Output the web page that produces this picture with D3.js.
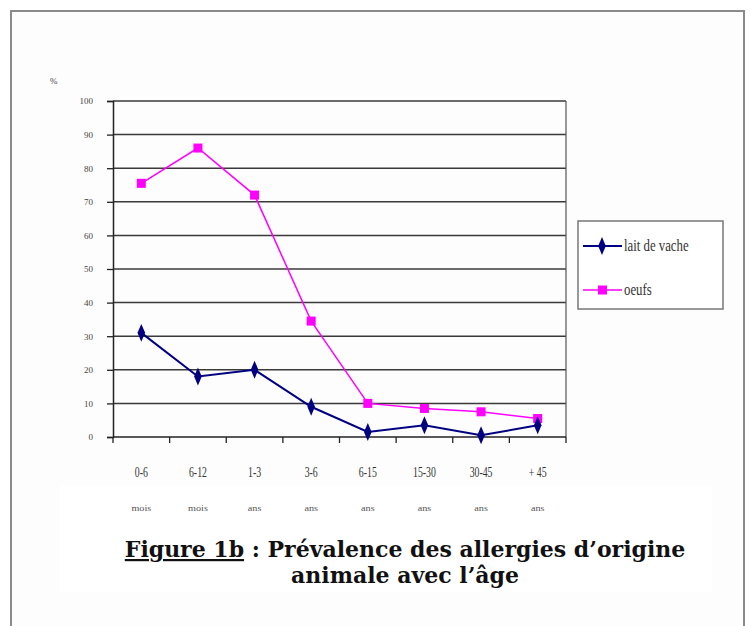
<!DOCTYPE html>
<html>
<head>
<meta charset="utf-8">
<script src="https://cdn.jsdelivr.net/npm/d3@7"></script>
<style>
    body { margin: 0; background: #ffffff; }
    svg { display: block; }
</style>
</head>
<body>
<svg id="chart" width="755" height="626"></svg>
<script>
const categories = ["0-6", "6-12", "1-3", "3-6", "6-15", "15-30", "30-45", "+ 45"];
const units = ["mois", "mois", "ans", "ans", "ans", "ans", "ans", "ans"];
const laitDeVache = [31, 18, 20, 9, 1.5, 3.5, 0.5, 3.5];
const oeufs = [75.5, 86, 72, 34.5, 10, 8.5, 7.5, 5.5];
const yTicks = [0, 10, 20, 30, 40, 50, 60, 70, 80, 90, 100];
const seriesNames = ["lait de vache", "oeufs"];

const svg = d3.select("#chart");

// outer frame (bottom edge runs off the picture)
svg.append("rect")
    .attr("x", 11).attr("y", 11)
    .attr("width", 733).attr("height", 640)
    .attr("fill", "#fdfdfd")
    .attr("stroke", "#8a8a8a")
    .attr("stroke-width", 2);

// caption area
svg.append("rect")
    .attr("x", 60).attr("y", 486)
    .attr("width", 652).attr("height", 106)
    .attr("fill", "#ffffff");

const plot = {left: 113, right: 566, top: 101, bottom: 437};

const x = d3.scaleBand()
    .domain(categories)
    .range([plot.left, plot.right])
    .padding(0);

const y = d3.scaleLinear()
    .domain([0, 100])
    .range([plot.bottom, plot.top]);

// gridlines
svg.append("g")
    .selectAll("line")
    .data(yTicks.filter(d => d > 0))
    .join("line")
    .attr("x1", plot.left)
    .attr("x2", plot.right)
    .attr("y1", d => y(d))
    .attr("y2", d => y(d))
    .attr("stroke", "#3a3a3a")
    .attr("stroke-width", 1.5);

// right border of plot
svg.append("line")
    .attr("x1", plot.right).attr("x2", plot.right)
    .attr("y1", plot.top).attr("y2", plot.bottom)
    .attr("stroke", "#555")
    .attr("stroke-width", 1.2);

// y axis
const yAxis = svg.append("g")
    .attr("transform", `translate(${plot.left},0)`)
    .call(d3.axisLeft(y).tickValues(yTicks).tickSize(6).tickPadding(14));
yAxis.select(".domain").attr("stroke", "#222").attr("stroke-width", 1.5);
yAxis.selectAll(".tick line").attr("stroke", "#222").attr("stroke-width", 1.3);
yAxis.selectAll("text")
    .attr("font-family", "Liberation Serif")
    .attr("font-size", 9)
    .attr("fill", "#444");

svg.append("text")
    .attr("x", 50).attr("y", 84)
    .attr("font-family", "Liberation Serif")
    .attr("font-size", 9)
    .attr("fill", "#444")
    .text("%");

// x axis with ticks at category boundaries
const xAxis = svg.append("g")
    .attr("transform", `translate(0,${plot.bottom})`);
xAxis.append("line")
    .attr("x1", plot.left).attr("x2", plot.right)
    .attr("stroke", "#222").attr("stroke-width", 1.5);
xAxis.selectAll(".tick")
    .data(categories.concat([null]))
    .join("line")
    .attr("x1", (d, i) => plot.left + i * x.step())
    .attr("x2", (d, i) => plot.left + i * x.step())
    .attr("y1", 0).attr("y2", 6)
    .attr("stroke", "#222").attr("stroke-width", 1.3);

const catLabels = svg.append("g");
catLabels.selectAll("text.cat")
    .data(categories)
    .join("text")
    .attr("class", "cat")
    .attr("transform", d => `translate(${x(d) + x.bandwidth() / 2},477) scale(0.7,1)`)
    .attr("text-anchor", "middle")
    .attr("font-family", "Liberation Serif")
    .attr("font-size", 14)
    .attr("fill", "#333")
    .text(d => d);
catLabels.selectAll("text.unit")
    .data(units)
    .join("text")
    .attr("class", "unit")
    .attr("transform", (d, i) => `translate(${x(categories[i]) + x.bandwidth() / 2},511) scale(0.85,0.6)`)
    .attr("text-anchor", "middle")
    .attr("font-family", "Liberation Serif")
    .attr("font-size", 12)
    .attr("fill", "#555")
    .text(d => d);

// series
const line = d3.line()
    .x((d, i) => x(categories[i]) + x.bandwidth() / 2)
    .y(d => y(d));

svg.append("path")
    .attr("d", line(oeufs))
    .attr("fill", "none")
    .attr("stroke", "#ff00ff")
    .attr("stroke-width", 1.5);

svg.append("path")
    .attr("d", line(laitDeVache))
    .attr("fill", "none")
    .attr("stroke", "#000080")
    .attr("stroke-width", 2);

const diamond = d3.symbol().type(d3.symbolDiamond).size(70);

svg.append("g")
    .selectAll("rect")
    .data(oeufs)
    .join("rect")
    .attr("x", (d, i) => x(categories[i]) + x.bandwidth() / 2 - 4.5)
    .attr("y", d => y(d) - 4.5)
    .attr("width", 9).attr("height", 9)
    .attr("fill", "#ff00ff");

svg.append("g")
    .selectAll("path")
    .data(laitDeVache)
    .join("path")
    .attr("d", diamond)
    .attr("transform", (d, i) => `translate(${x(categories[i]) + x.bandwidth() / 2},${y(d)}) scale(0.85,1.15)`)
    .attr("fill", "#000080");

// legend
const legend = svg.append("g").attr("transform", "translate(578,221)");
legend.append("rect")
    .attr("width", 145).attr("height", 88)
    .attr("fill", "#ffffff")
    .attr("stroke", "#777")
    .attr("stroke-width", 1.5);

const legendRows = [
    {name: seriesNames[0], color: "#000080", yy: 25, marker: "diamond"},
    {name: seriesNames[1], color: "#ff00ff", yy: 69, marker: "square"}
];
legendRows.forEach(r => {
    legend.append("line")
        .attr("x1", 5).attr("x2", 44)
        .attr("y1", r.yy).attr("y2", r.yy)
        .attr("stroke", r.color)
        .attr("stroke-width", r.marker === "diamond" ? 2 : 1.5);
    if (r.marker === "diamond") {
        legend.append("path")
            .attr("d", diamond)
            .attr("transform", `translate(24,${r.yy}) scale(0.85,1.15)`)
            .attr("fill", r.color);
    } else {
        legend.append("rect")
            .attr("x", 20).attr("y", r.yy - 4.5)
            .attr("width", 9).attr("height", 9)
            .attr("fill", r.color);
    }
    legend.append("text")
        .attr("transform", `translate(46,${r.yy + 5}) scale(0.8,1)`)
        .attr("font-family", "Liberation Serif")
        .attr("font-size", 16)
        .attr("fill", "#333")
        .text(r.name);
});

// caption
const caption = svg.append("text")
    .attr("x", 405).attr("y", 557)
    .attr("text-anchor", "middle")
    .attr("font-family", "DejaVu Serif")
    .attr("font-weight", "bold")
    .attr("font-size", 22)
    .attr("fill", "#111");
caption.append("tspan")
    .attr("text-decoration", "underline")
    .text("Figure 1b");
caption.append("tspan").text(" : Prévalence des allergies d’origine");

svg.append("text")
    .attr("x", 405).attr("y", 583)
    .attr("text-anchor", "middle")
    .attr("font-family", "DejaVu Serif")
    .attr("font-weight", "bold")
    .attr("font-size", 22)
    .attr("fill", "#111")
    .text("animale avec l’âge");
</script>
</body>
</html>
